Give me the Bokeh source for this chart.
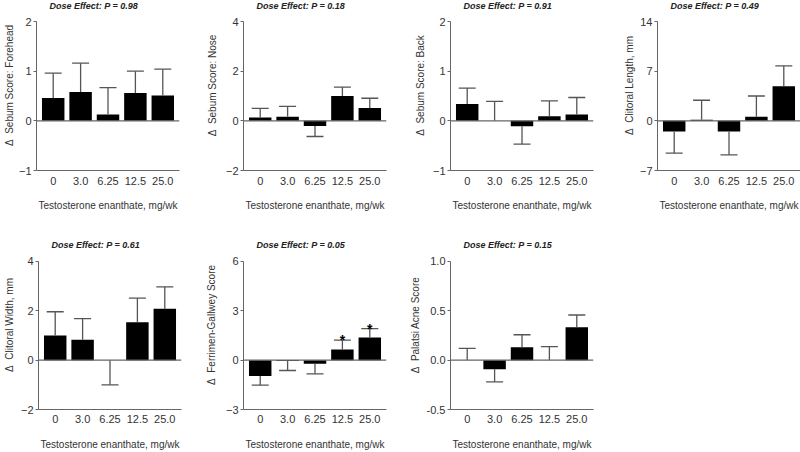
from bokeh.plotting import figure
from bokeh.layouts import row, column
from bokeh.models import Range1d, FactorRange, FixedTicker, Span, ColumnDataSource, Label
from bokeh.core.properties import value
from bokeh.embed import file_html
from bokeh.resources import INLINE

# ---------------- data ----------------
doses = ["0", "3.0", "6.25", "12.5", "25.0"]
x_label = "Testosterone enanthate, mg/wk"

forehead_mean = [0.46, 0.58, 0.13, 0.56, 0.51]
forehead_tip = [0.96, 1.16, 0.67, 1.00, 1.04]

nose_mean = [0.13, 0.16, -0.21, 1.00, 0.52]
nose_tip = [0.50, 0.58, -0.63, 1.36, 0.91]

back_mean = [0.34, 0.00, -0.11, 0.09, 0.13]
back_tip = [0.66, 0.39, -0.47, 0.40, 0.47]

length_mean = [-1.5, 0.14, -1.5, 0.56, 4.88]
length_tip = [-4.56, 2.90, -4.80, 3.50, 7.75]

width_mean = [1.00, 0.83, 0.00, 1.53, 2.08]
width_tip = [1.96, 1.68, -1.00, 2.51, 2.97]

fg_mean = [-0.97, -0.06, -0.22, 0.65, 1.37]
fg_tip = [-1.52, -0.63, -0.83, 1.21, 1.92]
fg_sig = ["", "", "", "*", "*"]

acne_mean = [0.00, -0.093, 0.13, 0.00, 0.333]
acne_tip = [0.12, -0.22, 0.257, 0.137, 0.457]

titles = ["Dose Effect: P = 0.98", "Dose Effect: P = 0.18", "Dose Effect: P = 0.91",
          "Dose Effect: P = 0.49", "Dose Effect: P = 0.61", "Dose Effect: P = 0.05",
          "Dose Effect: P = 0.15"]
y_labels = ["\u0394\u00a0 Sebum Score: Forehead", "\u0394\u00a0 Sebum Score: Nose",
            "\u0394\u00a0 Sebum Score: Back", "\u0394\u00a0 Clitoral Length, mm",
            "\u0394\u00a0 Clitoral Width, mm", "\u0394\u00a0 Ferrimen-Gallwey Score",
            "\u0394\u00a0 Palatsi Acne Score"]

forehead_ticks = [-1, 0, 1, 2]
nose_ticks = [-2, 0, 2, 4]
back_ticks = [-1, 0, 1, 2]
length_ticks = [-7, 0, 7, 14]
width_ticks = [-2, 0, 2, 4]
fg_ticks = [-3, 0, 3, 6]
acne_ticks = [-0.5, 0.0, 0.5, 1.0]
acne_tick_labels = ["-0.5", "0.0", "0.5", "1.0"]

FONT = "Liberation Sans"
AXIS_GRAY = "#666666"
TEXT = "#333333"
ERR = "#555555"
AXIS_H = 149          # pixel height of the drawn y axis
FRAME_H = 170         # frame includes the title strip above the axis


def panel(title, ylabel, mean, tip, ticks, tick_labels=None, sig=None,
          width=207, height=240, bl=40, br=24, bb=70,
          tick_standoff=6, label_standoff=12, ylabel_standoff=5, pad=0.044):
    lo, hi = ticks[0], ticks[-1]
    top = lo + (hi - lo) * FRAME_H / AXIS_H
    p = figure(x_range=FactorRange(factors=doses, range_padding=pad),
               y_range=Range1d(lo, top),
               width=width, height=height,
               min_border_left=bl, min_border_right=br,
               min_border_top=0, min_border_bottom=bb,
               output_backend="svg", toolbar_location=None)
    p.outline_line_color = None
    p.grid.visible = False
    p.background_fill_color = "white"
    p.border_fill_color = "white"

    p.add_layout(Label(x=13, y=FRAME_H - 5, x_units="screen", y_units="screen",
                       text=title, text_font=FONT, text_font_size="9px",
                       text_font_style="bold italic", text_color="#222222",
                       text_align="left", text_baseline="middle"))

    src = ColumnDataSource(dict(x=doses, mean=mean, tip=tip))
    p.vbar(x="x", top="mean", bottom=0, width=0.82, source=src,
           fill_color="black", line_color=None)
    p.segment(x0="x", y0="mean", x1="x", y1="tip", source=src,
              line_color=ERR, line_width=1.3)
    p.scatter(x="x", y="tip", source=src, marker="dash", size=17,
              line_color=ERR, line_width=1.3)

    p.add_layout(Span(location=0, dimension="width", line_color=AXIS_GRAY,
                      line_width=1.2))

    if sig is not None:
        ssrc = ColumnDataSource(dict(x=doses, tip=tip, sig=sig))
        p.text(x="x", y="tip", text="sig", source=ssrc, text_align="center",
               text_baseline="alphabetic", text_font=value(FONT),
               text_font_size="14px", text_font_style="bold",
               text_color="black")

    ya = p.yaxis[0]
    ya.ticker = FixedTicker(ticks=ticks)
    ya.bounds = (lo, hi)
    if tick_labels is not None:
        ya.major_label_overrides = {float(t): l for t, l in zip(ticks, tick_labels)}
    ya.minor_tick_line_color = None
    ya.major_tick_in = 0
    ya.major_tick_out = 3
    ya.major_label_standoff = 2
    ya.axis_label = ylabel
    ya.axis_label_standoff = ylabel_standoff
    ya.axis_label_text_font = FONT
    ya.axis_label_text_font_size = "10px"
    ya.axis_label_text_font_style = "normal"
    ya.axis_label_text_color = TEXT
    ya.major_label_text_font = FONT
    ya.major_label_text_font_size = "11px"
    ya.major_label_text_color = TEXT
    ya.axis_line_color = AXIS_GRAY
    ya.major_tick_line_color = AXIS_GRAY

    xa = p.xaxis[0]
    xa.major_tick_line_color = None
    xa.major_tick_in = 0
    xa.major_tick_out = 0
    xa.major_label_standoff = tick_standoff
    xa.axis_label = x_label
    xa.axis_label_standoff = label_standoff
    xa.axis_label_text_font = FONT
    xa.axis_label_text_font_size = "10px"
    xa.axis_label_text_font_style = "normal"
    xa.axis_label_text_color = TEXT
    xa.major_label_text_font = FONT
    xa.major_label_text_font_size = "11px"
    xa.major_label_text_color = TEXT
    xa.axis_line_color = AXIS_GRAY
    return p


BOTTOM = dict(height=212, bb=42, tick_standoff=5, label_standoff=13)

p1 = panel(titles[0], y_labels[0], forehead_mean, forehead_tip, forehead_ticks,
           width=203, bl=36, ylabel_standoff=1)
p2 = panel(titles[1], y_labels[1], nose_mean, nose_tip, nose_ticks, ylabel_standoff=5)
p3 = panel(titles[2], y_labels[2], back_mean, back_tip, back_ticks, ylabel_standoff=4)
p4 = panel(titles[3], y_labels[3], length_mean, length_tip, length_ticks,
           width=183, br=0, ylabel_standoff=2)

p5 = panel(titles[4], y_labels[4], width_mean, width_tip, width_ticks,
           width=202, bl=38, br=21, ylabel_standoff=3, **BOTTOM)
p6 = panel(titles[5], y_labels[5], fg_mean, fg_tip, fg_ticks, sig=fg_sig,
           width=201, bl=41, br=17, ylabel_standoff=6, **BOTTOM)
p7 = panel(titles[6], y_labels[6], acne_mean, acne_tip, acne_ticks,
           tick_labels=acne_tick_labels, bl=47, br=17, ylabel_standoff=3, **BOTTOM)

layout = column(row(p1, p2, p3, p4), row(p5, p6, p7))

open("out.html", "w").write(file_html(layout, INLINE))
